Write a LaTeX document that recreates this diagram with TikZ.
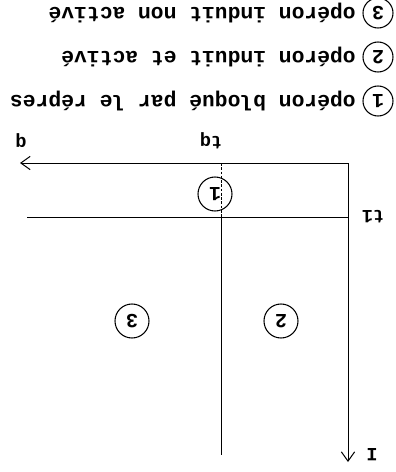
\documentclass[tikz,border=0pt]{standalone}
\usepackage{fontspec}
\setmonofont{Liberation Mono}
\usetikzlibrary{arrows.meta}
\begin{document}
\begin{tikzpicture}[x=0.75pt,y=-0.75pt,
  axis/.style={line width=0.75pt,-{Straight Barb[length=7pt,width=10pt]}},
  guide/.style={line width=0.75pt},
  lbl/.style={rotate=180,font=\ttfamily\bfseries\fontsize{14}{16}\selectfont,inner sep=0pt},
  zone/.style={circle,draw,line width=0.8pt,minimum size=25.5pt,inner sep=0pt,rotate=180,
    font=\ttfamily\bfseries\fontsize{15}{17}\selectfont},
  key/.style={circle,draw,line width=0.8pt,minimum size=22.5pt,inner sep=0pt,rotate=180,
    font=\ttfamily\bfseries\fontsize{15}{17}\selectfont},
  keytext/.style={rotate=180,anchor=west,inner sep=0pt,
    font=\ttfamily\bfseries\fontsize{16}{18}\selectfont}]
  \useasboundingbox (0,0) rectangle (396,472);
  % axes
  \coordinate (O) at (348,163);
  \coordinate (qend) at (20,163);
  \coordinate (Iend) at (348,462);
  \draw[axis] (O) -- (qend);
  \draw[axis] (O) -- (Iend);
  \node[lbl] (qlbl) at (21,141) {q};
  \node[lbl] (Ilbl) at (372,455) {I};
  % threshold lines
  \coordinate (t1r) at (348,217);
  \coordinate (t1l) at (27,217);
  \coordinate (tqtop) at (221,163);
  \coordinate (tqmid) at (221,217);
  \coordinate (tqbot) at (221,455);
  \draw[guide] (t1r) -- (t1l);
  \draw[guide,dash pattern=on 2pt off 1.2pt,line width=0.6pt] (tqtop) -- (tqmid);
  \draw[guide] (tqmid) -- (tqbot);
  \node[lbl] (tqlbl) at (211,141) {tq};
  \node[lbl] (t1lbl) at (373,217) {t1};
  % zones
  \node[zone] (z1) at (215,194) {1};
  \node[zone] (z2) at (281,321) {2};
  \node[zone] (z3) at (132,321) {3};
  % key
  \node[key] (k3) at (378,13) {3};
  \node[key] (k2) at (378,57) {2};
  \node[key] (k1) at (378,101) {1};
  \node[keytext] (k3t) at (356,13) {opéron induit non activé};
  \node[keytext] (k2t) at (356,57) {opéron induit et activé};
  \node[keytext] (k1t) at (356,101) {opéron bloqué par le répres};
\end{tikzpicture}
\end{document}
